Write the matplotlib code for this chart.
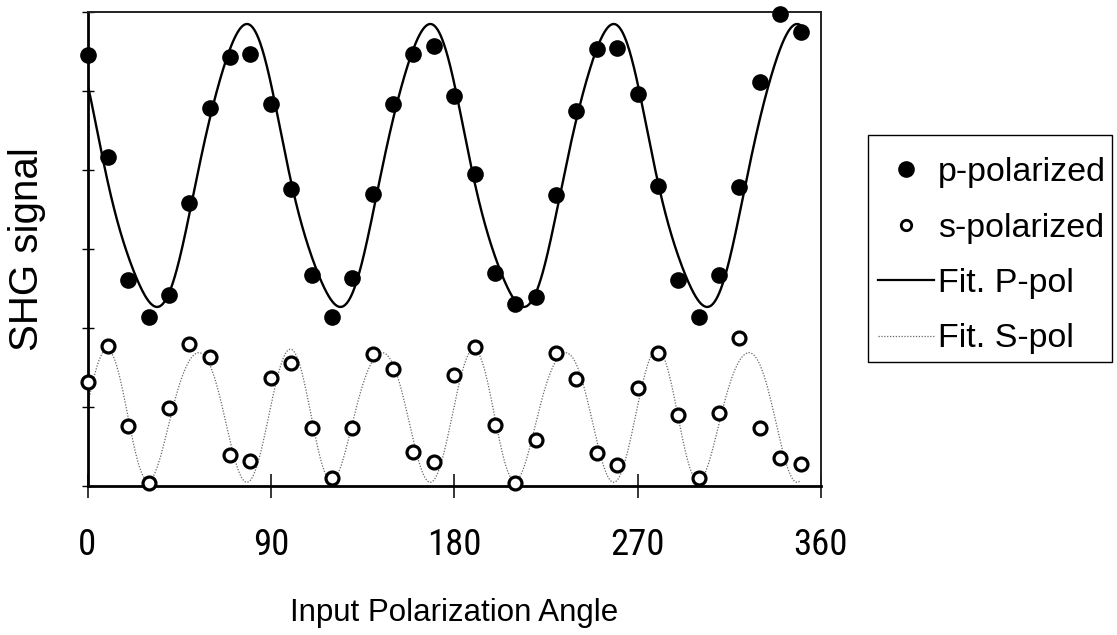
import numpy as np
import matplotlib
matplotlib.use("Agg")
import matplotlib.pyplot as plt
from matplotlib import font_manager
from matplotlib.lines import Line2D
from matplotlib.patches import Rectangle

# ---------------- data ----------------
angles = [0, 10, 20, 30, 40, 50, 60, 70, 80, 90, 100, 110, 120, 130, 140, 150, 160, 170,
          180, 190, 200, 210, 220, 230, 240, 250, 260, 270, 280, 290, 300, 310, 320, 330, 340, 350]

p_pol = [5.46, 4.16, 2.61, 2.14, 2.42, 3.58, 4.78, 5.43, 5.47, 4.84, 3.76, 2.67, 2.14, 2.63,
         3.70, 4.84, 5.47, 5.57, 4.94, 3.95, 2.70, 2.30, 2.39, 3.68, 4.75, 5.53, 5.54, 4.96,
         3.80, 2.61, 2.14, 2.67, 3.78, 5.11, 5.97, 5.75]

s_pol = [1.32, 1.77, 0.76, 0.04, 0.99, 1.80, 1.63, 0.39, 0.32, 1.37, 1.56, 0.73, 0.10, 0.73,
         1.67, 1.48, 0.43, 0.30, 1.41, 1.76, 0.77, 0.04, 0.58, 1.68, 1.35, 0.42, 0.27, 1.24,
         1.68, 0.90, 0.10, 0.92, 1.87, 0.73, 0.35, 0.28]

# fit-curve readings over one 90-degree period (the fits repeat every 90 degrees)
fit_p_angle = [0, 1.3, 11, 19, 23.3, 32.7, 40.5, 43.8, 47, 50.9, 60.7, 68.4, 70.8, 74.9, 79, 83.1, 86.4]
fit_p_value = [5.0, 4.89, 3.8, 3.02, 2.57, 2.35, 2.48, 2.70, 3.05, 3.58, 4.76, 5.39, 5.58, 5.77, 5.84, 5.80, 5.52]

fit_s_angle = [0.1, 4.5, 9.4, 13.5, 17.6, 23.3, 29.9, 35.6, 42.2, 48.7, 53.7, 58.6, 63.5, 70, 79, 86.4]
fit_s_value = [1.07, 1.43, 1.76, 1.64, 1.09, 0.50, 0.04, 0.37, 1.00, 1.55, 1.66, 1.62, 1.26, 0.58, 0.04, 0.58]

fit_range = (0, 350)
x_ticks = [0, 90, 180, 270, 360]
x_label = "Input Polarization Angle"
y_label = "SHG signal"
legend_labels = ["p-polarized", "s-polarized", "Fit. P-pol", "Fit. S-pol"]


def fourier_fit(ang, val, nharm, period=90.0):
    a = np.radians(np.asarray(ang, float)) * 360.0 / period
    cols = [np.ones_like(a)]
    for k in range(1, nharm + 1):
        cols += [np.cos(k * a), np.sin(k * a)]
    coef, *_ = np.linalg.lstsq(np.column_stack(cols), np.asarray(val, float), rcond=None)

    def model(t):
        b = np.radians(np.asarray(t, float)) * 360.0 / period
        out = np.full_like(b, coef[0])
        for k in range(1, nharm + 1):
            out += coef[2 * k - 1] * np.cos(k * b) + coef[2 * k] * np.sin(k * b)
        return out
    return model


fit_p = fourier_fit(fit_p_angle, fit_p_value, 3)
fit_s = fourier_fit(fit_s_angle, fit_s_value, 4)
theta = np.linspace(fit_range[0], fit_range[1], 1400)

# ---------------- fonts ----------------
names = {f.name for f in font_manager.fontManager.ttflist}
narrow_name = None
for cand in ["Liberation Sans Narrow", "Arial Narrow", "Roboto Condensed", "Open Sans Condensed"]:
    if cand in names:
        narrow_name = cand
        break
regular = ["Liberation Sans", "DejaVu Sans"]
if narrow_name:
    tick_font, tick_fs = [narrow_name, "DejaVu Sans"], 26.5
else:
    tick_font, tick_fs = regular, 25.5

# ---------------- figure ----------------
W, H = 1117, 635
fig = plt.figure(figsize=(W / 100, H / 100), dpi=100)
ax = fig.add_axes([87.5 / W, 1 - 486 / H, (821 - 87.5) / W, (486 - 12) / H])

s_color = "#666666"
s_ls = (0, (1.0, 1.3))
ax.plot(theta, fit_s(theta), color=s_color, lw=0.9, ls=s_ls, zorder=2)
ax.plot(theta, fit_p(theta), color="black", lw=1.7, zorder=4)
ax.plot(angles, p_pol, ls="none", marker="o", ms=12, mfc="black", mec="black", mew=0,
        zorder=3, clip_on=False)
ax.plot(angles, s_pol, ls="none", marker="o", ms=9.3, mfc="white", mec="black", mew=2.3,
        zorder=3, clip_on=False)

ax.set_xlim(0, 360)
ax.set_ylim(0, 6)
ax.set_xticks(x_ticks)
ax.set_xticklabels([str(v) for v in x_ticks], fontfamily=tick_font, fontsize=tick_fs)
ax.set_yticks(np.arange(0, 7, 1))
ax.set_yticklabels([])
ax.tick_params(axis="x", direction="inout", length=17, width=1.1, pad=21)
ax.tick_params(axis="y", direction="inout", length=8.5, width=1.0)

for side in ("left", "bottom"):
    ax.spines[side].set_linewidth(2.0)
    ax.spines[side].set_color("black")
for side in ("top", "right"):
    ax.spines[side].set_linewidth(1.4)
    ax.spines[side].set_color("#222222")

ax.set_xlabel(x_label, fontfamily=regular, fontsize=22.5)
ax.xaxis.set_label_coords(0.5, (486 - 598) / 474)
ax.set_ylabel(y_label, fontfamily=regular, fontsize=29, labelpad=22)

# legend: entries without their own frame, box drawn around them
handles = [
    Line2D([], [], ls="none", marker="o", ms=12, mfc="black", mec="black", mew=0),
    Line2D([], [], ls="none", marker="o", ms=7.5, mfc="white", mec="black", mew=2.0),
    Line2D([], [], color="black", lw=1.6),
    Line2D([], [], color=s_color, lw=0.9, ls=s_ls),
]
leg = fig.legend(handles, legend_labels,
                 loc="upper left", bbox_to_anchor=(878 / W, 1 - 157 / H),
                 prop={"family": regular, "size": 24.5}, frameon=False,
                 borderpad=0, labelspacing=0.72,
                 handlelength=1.64, handletextpad=0.12, borderaxespad=0)
fig.add_artist(Rectangle((868 / W, 1 - 362 / H), (1112 - 868) / W, (362 - 135) / H,
                         transform=fig.transFigure, fill=False, edgecolor="black", lw=1.0))

fig.savefig("out.png", dpi=100, facecolor="white")
